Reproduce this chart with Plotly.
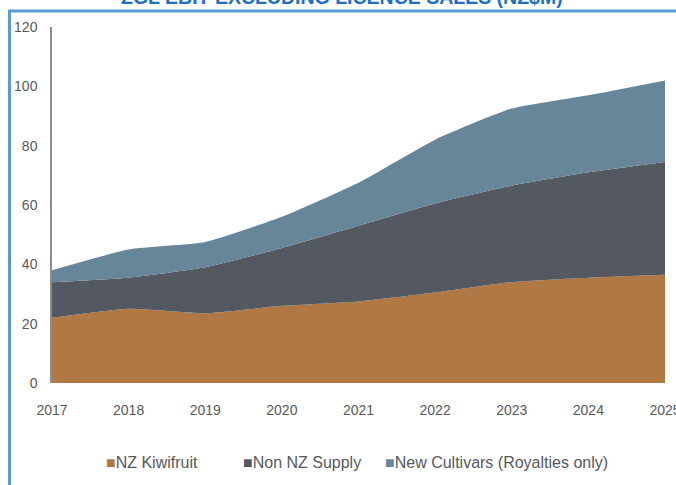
import plotly.graph_objects as go

# Years on the x axis
years = [2017, 2018, 2019, 2020, 2021, 2022, 2023, 2024, 2025]

# EBIT contributions by segment (NZ$m), stacked
nz_kiwifruit = [22, 25, 23.5, 26, 27.5, 30.5, 34, 35.5, 36.5]
non_nz_supply = [12, 10.5, 15.5, 19.5, 25.5, 30, 32.5, 35.5, 38]
new_cultivars = [4, 9.5, 8.5, 10.5, 14.5, 21.5, 26, 26, 27.5]

series_names = ["NZ Kiwifruit", "Non NZ Supply", "New Cultivars (Royalties only)"]
series_values = [nz_kiwifruit, non_nz_supply, new_cultivars]
series_colors = ["#b07844", "#545860", "#67869a"]

y_ticks = [0, 20, 40, 60, 80, 100, 120]
title_text = "ZGL EBIT EXCLUDING LICENCE SALES (NZ$M)"

W, H = 676, 485
ML, MR, MT, MB = 52, 11, 27, 102

fig = go.Figure()
for name, vals, col in zip(series_names, series_values, series_colors):
    fig.add_trace(go.Scatter(
        x=years, y=vals, name=name, mode="lines",
        stackgroup="one", line=dict(width=0, color=col, shape="spline", smoothing=0.5),
        fillcolor=col, showlegend=False,
    ))

font_family = "Liberation Sans, Arial, sans-serif"
grey = "#595959"

fig.update_layout(
    width=W, height=H,
    margin=dict(l=ML, r=MR, t=MT, b=MB),
    paper_bgcolor="white", plot_bgcolor="white",
    font=dict(family=font_family, size=14, color=grey),
    xaxis=dict(
        range=[years[0], years[-1]], tickvals=years, ticktext=[str(y) for y in years],
        showgrid=False, zeroline=False, showline=False, automargin=False,
        ticks="outside", ticklen=14, tickcolor="rgba(0,0,0,0)",
        tickfont=dict(size=14, color=grey), ticklabeloverflow="allow",
    ),
    yaxis=dict(
        range=[0, 120], tickvals=y_ticks, showgrid=False, zeroline=False,
        showline=True, linecolor="#8c8c8c", linewidth=1.5, automargin=False,
        ticks="outside", ticklen=10, tickcolor="rgba(0,0,0,0)",
        tickfont=dict(size=14, color=grey),
    ),
)

# Plot area size in pixels, for placing items outside it in paper coordinates
pw = W - ML - MR
ph = H - MT - MB

def px(xp):
    return (xp - ML) / pw

def py(yp):
    return (H - MB - yp) / ph

# Blue frame: top and left edges
frame = "#5b9bd5"
fig.add_shape(type="line", xref="paper", yref="paper",
              x0=px(8), x1=px(680), y0=py(11), y1=py(11),
              line=dict(color=frame, width=3))
fig.add_shape(type="line", xref="paper", yref="paper",
              x0=px(9.5), x1=px(9.5), y0=py(11), y1=py(490),
              line=dict(color=frame, width=3))

# Title, running off the top edge
fig.add_annotation(text="<b>" + title_text + "</b>", xref="paper", yref="paper",
                   x=px(342), y=py(10), xanchor="center", yanchor="bottom",
                   showarrow=False, font=dict(size=19.5, color="#1f6fc3", family=font_family))

# Legend row
legend_x = [104, 241, 383]
for name, col, lx in zip(series_names, series_colors, legend_x):
    fig.add_annotation(
        text=f"<span style='color:{col}'>■</span>{name}",
        xref="paper", yref="paper", x=px(lx), y=py(462),
        xanchor="left", yanchor="middle", showarrow=False,
        font=dict(size=16, color=grey, family=font_family),
    )

fig.write_html("out.html")
